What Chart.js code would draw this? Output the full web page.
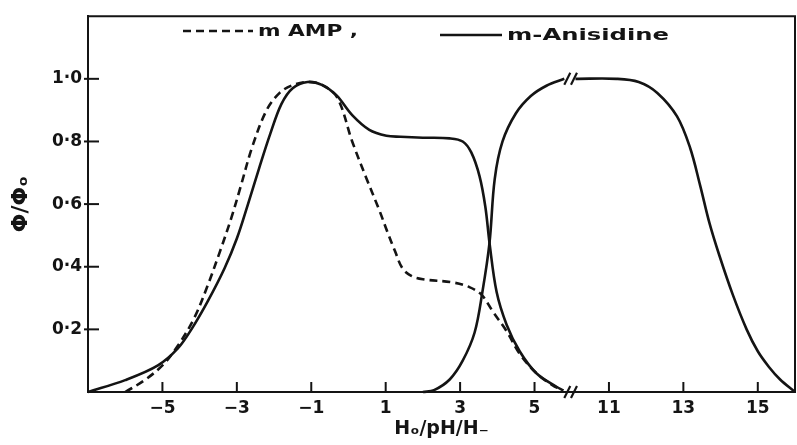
<!DOCTYPE html>
<html><head><meta charset="utf-8">
<script src="https://cdn.jsdelivr.net/npm/chart.js@4.4.1/dist/chart.umd.min.js"></script>
<style>html,body{margin:0;padding:0;background:#fff}#wrap{width:797px;height:445px}</style>
</head><body><div id="wrap"><canvas id="c"></canvas></div>
<script>
// ---- data (real x values: H0 / pH / H-) ----
const xTickValues = [-5, -3, -1, 1, 3, 5, 11, 13, 15];
const yTickValues = [0.2, 0.4, 0.6, 0.8, 1.0];
const BREAK_LOW = 5.8;      // axis broken after this real x
const BREAK_HIGH = 10.0;    // and resumes at this real x
const BREAK_SHIFT = 4;      // real x on right part = axis x + 4

const ampX = [-6.0, -5.5, -5.0, -4.6, -4.15, -3.8, -3.45, -3.15, -2.9, -2.58, -2.2, -1.85, -1.5, -1.1, -0.7, -0.3, 0.1, 0.47, 0.83, 1.05, 1.25, 1.45, 1.7, 2.0, 2.8, 3.25, 3.58, 3.88, 4.25, 4.6, 5.05, 5.48, 5.75];
const ampY = [0, 0.036, 0.085, 0.145, 0.235, 0.335, 0.45, 0.555, 0.655, 0.785, 0.9, 0.955, 0.98, 0.99, 0.98, 0.94, 0.80, 0.686, 0.58, 0.51, 0.45, 0.395, 0.37, 0.36, 0.35, 0.335, 0.31, 0.257, 0.194, 0.122, 0.06, 0.022, 0.005];

const anisAcidX = [-7, -6.0, -5.12, -4.58, -4.2, -3.78, -3.33, -3.0, -2.7, -2.4, -2.1, -1.8, -1.5, -1.1, -0.7, -0.32, 0.1, 0.56, 1.02, 1.4, 2.0, 2.72, 3.07, 3.3, 3.52, 3.68, 3.79, 3.98, 4.25, 4.6, 5.05, 5.6, 5.78];
const anisAcidY = [0, 0.038, 0.085, 0.14, 0.204, 0.29, 0.395, 0.49, 0.6, 0.715, 0.825, 0.92, 0.97, 0.99, 0.98, 0.947, 0.884, 0.837, 0.818, 0.815, 0.812, 0.81, 0.80, 0.765, 0.69, 0.59, 0.476, 0.32, 0.215, 0.13, 0.06, 0.016, 0.005];

const anisBaseLowX = [2.0, 2.3, 2.72, 3.07, 3.39, 3.6, 3.79, 3.93, 4.14, 4.5, 4.9, 5.32, 5.8];
const anisBaseLowY = [0, 0.006, 0.04, 0.10, 0.19, 0.32, 0.476, 0.68, 0.8, 0.89, 0.945, 0.978, 1.0];
const anisBaseHighX = [10.1, 11.2, 11.8, 12.3, 12.83, 13.18, 13.45, 13.7, 13.97, 14.33, 14.7, 15.0, 15.3, 15.6, 16.0];
const anisBaseHighY = [1.0, 1.0, 0.99, 0.955, 0.88, 0.78, 0.66, 0.54, 0.435, 0.31, 0.2, 0.13, 0.08, 0.04, 0];

// ---- broken-axis mapping ----
const toAxis = x => (x >= BREAK_HIGH ? x - BREAK_SHIFT : x);
const fromAxis = v => (v > BREAK_LOW + 0.1 ? v + BREAK_SHIFT : v);
const pts = (xs, ys) => xs.map((x, i) => ({x: toAxis(x), y: ys[i]}));

const INK = '#141414';
const FONT = '"DejaVu Sans", sans-serif';

const baseData = pts(anisBaseLowX, anisBaseLowY)
  .concat([{x: (BREAK_LOW + toAxis(BREAK_HIGH)) / 2, y: null}])
  .concat(pts(anisBaseHighX, anisBaseHighY));

const lineCommon = {borderColor: INK, borderWidth: 2.6, pointRadius: 0, fill: false,
  tension: 0.35, clip: false, spanGaps: false};

const decor = {
  id: 'decor',
  afterDraw(chart) {
    const {ctx, chartArea: a, scales: {x, y}} = chart;
    ctx.save();
    ctx.strokeStyle = INK;
    ctx.lineCap = 'butt';
    // frame top & right
    ctx.lineWidth = 2;
    ctx.beginPath();
    ctx.moveTo(a.left, a.top); ctx.lineTo(a.right, a.top); ctx.lineTo(a.right, a.bottom);
    ctx.stroke();
    // inward tick marks
    xTickValues.forEach(v => {
      const px = x.getPixelForValue(toAxis(v));
      ctx.beginPath(); ctx.moveTo(px, a.bottom); ctx.lineTo(px, a.bottom - 10); ctx.stroke();
    });
    yTickValues.forEach(v => {
      const py = y.getPixelForValue(v);
      ctx.beginPath(); ctx.moveTo(a.left - 4, py); ctx.lineTo(a.left + 11, py); ctx.stroke();
    });
    // break marks "//"
    const slash = (xv, yv) => {
      const px = x.getPixelForValue(xv), py = y.getPixelForValue(yv);
      ctx.beginPath(); ctx.moveTo(px - 3, py + 6); ctx.lineTo(px + 3, py - 6); ctx.stroke();
    };
    ctx.lineWidth = 2.2;
    [BREAK_LOW + 0.08, BREAK_LOW + 0.26].forEach(xv => { slash(xv, 0); slash(xv, 1.0); });
    // legend (text stretched horizontally to the reference's wide lettering)
    ctx.fillStyle = INK;
    ctx.font = 'bold 16px ' + FONT;
    ctx.textBaseline = 'middle';
    const fitText = (txt, left, cy, width) => {
      const w = ctx.measureText(txt).width;
      const k = width / w;
      ctx.save();
      ctx.translate(left, cy);
      ctx.scale(k, 1);
      ctx.fillText(txt, 0, 0);
      ctx.restore();
    };
    ctx.lineWidth = 2.6;
    ctx.setLineDash([8, 5]);
    ctx.beginPath(); ctx.moveTo(183, 31); ctx.lineTo(253, 31); ctx.stroke();
    ctx.setLineDash([]);
    fitText('m AMP ,', 258, 32, 100);
    ctx.beginPath(); ctx.moveTo(440, 35); ctx.lineTo(502, 35); ctx.stroke();
    fitText('m-Anisidine', 507, 36, 162);
    ctx.restore();
  }
};

new Chart(document.getElementById('c'), {
  type: 'line',
  data: {
    datasets: [
      Object.assign({label: 'm AMP', data: pts(ampX, ampY), borderDash: [8, 5]}, lineCommon),
      Object.assign({label: 'm-Anisidine', data: pts(anisAcidX, anisAcidY)}, lineCommon),
      Object.assign({label: 'm-Anisidine (basic)', data: baseData}, lineCommon)
    ]
  },
  plugins: [decor],
  options: {
    responsive: true, maintainAspectRatio: false, animation: false,
    layout: {padding: {top: 10, right: 2, left: 0, bottom: 0}},
    plugins: {legend: {display: false}, tooltip: {enabled: false}},
    scales: {
      x: {
        type: 'linear', min: -7, max: 12,
        afterFit: s => { s.height = 53; },
        afterBuildTicks: s => { s.ticks = xTickValues.map(v => ({value: toAxis(v)})); },
        grid: {display: false, drawTicks: false},
        border: {display: true, color: INK, width: 2},
        ticks: {color: INK, padding: 6, maxRotation: 0, autoSkip: false,
          font: {family: FONT, size: 17, weight: 'bold'},
          callback: v => { const r = Math.round(fromAxis(v)); return r < 0 ? '\u2212' + Math.abs(r) : String(r); }},
        title: {display: true, text: 'H\u2092/pH/H\u208B', color: INK,
          font: {family: FONT, size: 19, weight: 'bold'}, padding: {top: 0, bottom: 5}}
      },
      y: {
        type: 'linear', min: 0, max: 1.2,
        afterFit: s => { s.width = 88; },
        afterBuildTicks: s => { s.ticks = yTickValues.map(v => ({value: v})); },
        grid: {display: false, drawTicks: false},
        border: {display: true, color: INK, width: 2},
        ticks: {color: INK, padding: 6,
          font: {family: FONT, size: 17, weight: 'bold'},
          callback: v => v.toFixed(1).replace('.', '\u00B7')},
        title: {display: true, text: '\u03A6/\u03A6\u2092', color: INK,
          font: {family: FONT, size: 22, weight: 'bold'}, padding: {top: 8, bottom: 0}}
      }
    }
  }
});
</script></body></html>
